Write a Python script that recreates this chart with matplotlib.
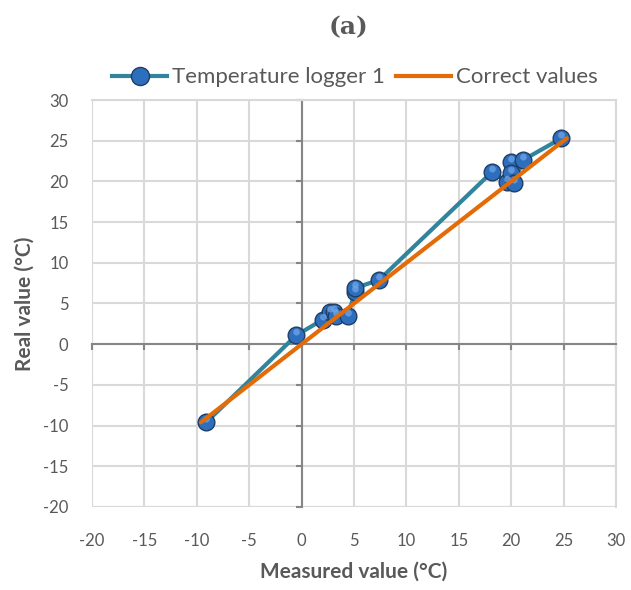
import matplotlib
matplotlib.use("Agg")
import matplotlib.pyplot as plt
from matplotlib.path import Path
import numpy as np

# data
measured = [-9.1, -0.5, 2.0, 2.7, 3.1, 3.3, 4.4, 5.1, 5.1, 7.4,
            18.2, 19.6, 20.0, 20.0, 20.3, 21.1, 24.8]
real = [-9.6, 1.1, 3.0, 3.9, 4.0, 3.5, 3.5, 6.4, 6.9, 7.9,
        21.2, 19.9, 22.4, 21.0, 19.8, 22.6, 25.3]
correct = sorted(real)
ticks = [-20, -15, -10, -5, 0, 5, 10, 15, 20, 25, 30]

TEAL = "#31849b"
ORANGE = "#e36c09"
GRID = "#d9d9d9"
AXIS = "#868686"
TEXT = "#595959"
BALL = "#2e6fbd"
BALL_EDGE = "#1f3d66"

plt.rcParams["font.family"] = ["Lato", "DejaVu Sans"]
plt.rcParams["axes.unicode_minus"] = False

# glossy highlight: circle sitting in the upper half of the ball
_t = np.linspace(0, 2 * np.pi, 40)
highlight = Path(np.column_stack([0.5 * np.cos(_t), 0.5 + 0.5 * np.sin(_t)]))

fig = plt.figure(figsize=(6.31, 5.90), dpi=100)
ax = fig.add_axes([0.1458, 0.1407, 0.8304, 0.6898])

ax.plot(measured, real, color=TEAL, lw=3, zorder=3, solid_capstyle="round")
ax.plot(measured, real, ls="none", marker="o", ms=12, mfc=BALL,
        mec=BALL_EDGE, mew=1.0, zorder=4)
ax.plot(measured, real, ls="none", marker=highlight, ms=12 * 0.8, mfc="#6fa6e6",
        mec="none", alpha=0.75, zorder=5)
ax.plot(correct, correct, color=ORANGE, lw=3, zorder=6, solid_capstyle="round")

ax.set_xlim(-20, 30)
ax.set_ylim(-20, 30)
ax.set_xticks(ticks)
ax.set_yticks(ticks)
ax.grid(True, color=GRID, lw=1.5, zorder=0)
ax.set_axisbelow(True)

for side in ["top", "right"]:
    ax.spines[side].set_color(GRID)
    ax.spines[side].set_linewidth(1.5)
ax.spines["left"].set_position(("data", 0))
ax.spines["bottom"].set_position(("data", 0))
for side in ["left", "bottom"]:
    ax.spines[side].set_color(AXIS)
    ax.spines[side].set_linewidth(1.5)
ax.tick_params(axis="both", direction="out", length=4, width=1.5,
               color=AXIS, labelleft=False, labelbottom=False)

# frame lines at the outer edges of the plot area
ax.axvline(-20, color=GRID, lw=1.5, zorder=0)
ax.axhline(-20, color=GRID, lw=1.5, zorder=0)

sy = ax.secondary_yaxis("left")
sy.set_yticks(ticks)
sy.tick_params(length=0, labelsize=12, labelcolor=TEXT, pad=17)
sy.spines["left"].set_visible(False)
sx = ax.secondary_xaxis("bottom")
sx.set_xticks(ticks)
sx.tick_params(length=0, labelsize=12, labelcolor=TEXT, pad=19)
sx.spines["bottom"].set_visible(False)

sx.set_xlabel("Measured value (\u00b0C)", fontsize=15, fontweight="bold",
              color=TEXT, labelpad=9)
sy.set_ylabel("Real value (\u00b0C)", fontsize=15, fontweight="bold",
              color=TEXT, labelpad=6)

fig.text(0.553, 0.954, "(a)", ha="center", va="center", fontsize=18,
         fontweight="bold", color=TEXT, family=["DejaVu Serif"])

h1, = ax.plot([], [], color=TEAL, lw=3, marker="o", ms=13, mfc=BALL,
              mec=BALL_EDGE, mew=1.0)
h2, = ax.plot([], [], color=ORANGE, lw=3)
fig.legend([h1, h2], ["Temperature logger 1", "Correct values"],
           loc="center", bbox_to_anchor=(0.562, 0.869), ncol=2, frameon=False,
           fontsize=16, handlelength=2.5, handletextpad=0.2, columnspacing=0.5,
           labelcolor=TEXT)

fig.savefig("out.png", dpi=100)
